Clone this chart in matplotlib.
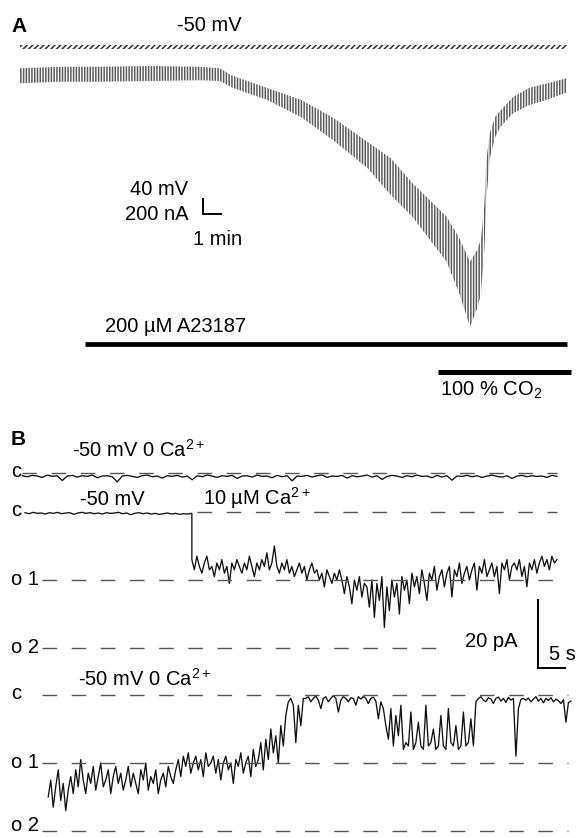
import numpy as np
import matplotlib
matplotlib.use("Agg")
import matplotlib.pyplot as plt
from matplotlib import transforms

# ======================= DATA =======================
# Panel A : oocyte voltage clamp, time (min), current envelope (nA)
a_time_min = [0.0, 2.2, 4.4, 7.2, 10.0, 11.1, 11.8, 13.7, 15.6, 17.4, 19.3, 20.6,
              21.8, 23.7, 24.4, 25.0, 25.4, 25.6, 25.8, 25.9, 26.1, 26.4, 26.7,
              27.4, 28.3, 29.3, 30.4]
a_current_upper_nA = [-110, -90, -90, -80, -90, -110, -210, -370, -530, -770, -1090,
                      -1310, -1640, -2090, -2370, -2690, -2530, -2400, -1930, -1360,
                      -970, -760, -670, -490, -370, -310, -240]
a_current_lower_nA = [-310, -290, -290, -280, -270, -280, -370, -530, -760, -1070,
                      -1440, -1800, -2090, -2690, -3110, -3560, -3310, -3130, -2530,
                      -1890, -1310, -1030, -890, -710, -600, -530, -430]
a_voltage_time_min = [0.0, 30.4]
a_voltage_upper_mV = [-45, -45]
a_voltage_lower_mV = [-56, -56]
a23187_period_min = [3.6, 30.4]
co2_period_min = [23.2, 30.6]

# Panel B : single-channel currents (pA) ; levels c / o1 / o2
level_values_pA = [0, -20, -40]
level_names = ["c", "o 1", "o 2"]

trace1_span_s = [-0.5, 98.5]
trace1_pA = [-0.8, -1.1, -0.7, -0.9, -1.3, -0.6, -1.0, -0.8, -2.2, -0.9, -0.7, -1.2, -0.8, -1.0,
             -0.6, -1.4, -0.9, -0.8, -1.1, -2.6, -0.9, -0.7, -1.0, -1.3, -0.8, -0.6, -1.1, -0.9,
             -1.5, -0.8, -1.0, -0.7, -1.2, -0.9, -2.0, -0.8, -1.1, -0.6, -0.9, -1.3, -0.8, -1.0,
             -0.7, -1.6, -0.9, -0.8, -1.2, -0.6, -1.0, -0.9, -1.4, -0.7, -1.1, -0.8, -2.3, -0.9,
             -1.0, -0.7, -1.2, -0.8, -0.6, -1.3, -0.9, -1.0, -0.7, -1.5, -0.8, -1.1, -0.9, -0.6,
             -1.2, -0.8, -1.9, -1.0, -0.7, -0.9, -1.3, -0.8, -1.1, -0.6, -1.0, -0.9, -1.4, -0.7,
             -1.2, -0.8, -2.1, -0.9, -1.0, -0.7, -1.1, -0.8, -1.3, -0.9, -0.6, -1.0, -1.2, -0.8,
             -1.6, -0.9, -0.7, -1.1, -0.8, -1.0, -0.9, -1.3, -0.7, -1.0]

trace2_step_s = 30.9          # application of 10 uM Ca2+
trace2_end_s = 98.5
trace2_pre_pA = [-0.2, -0.5, -0.1, -0.4, -0.3, -0.6, -0.2, -0.4, -0.1, -0.5, -0.3, -0.2, -0.7,
                 -0.3, -0.1, -0.4, -0.2, -0.5, -0.3, -0.6, -0.2, -0.4, -0.3, -0.1, -0.5, -0.3,
                 -0.8, -0.4, -0.2, -0.5, -0.3, -0.6, -0.4, -0.7, -0.5, -0.3, -0.6, -0.4, -0.7,
                 -0.5, -0.6, -0.4]
trace2_post_pA = [-14, -17, -13, -16, -18, -15, -13, -17, -16, -19,
                  -15, -17, -14, -18, -16, -21, -15, -17, -14, -16,
                  -18, -15, -17, -13, -16, -19, -15, -17, -14, -16,
                  -12, -17, -15, -10, -16, -18, -15, -17, -14, -18,
                  -16, -19, -17, -15, -18, -16, -20, -17, -15, -18,
                  -17, -20, -18, -22, -17, -19, -21, -18, -20, -17,
                  -20, -24, -19, -22, -27, -20, -23, -19, -25, -21,
                  -22, -28, -20, -31, -21, -26, -19, -34, -22, -29,
                  -20, -25, -21, -30, -19, -23, -20, -27, -18, -22,
                  -19, -24, -17, -21, -26, -18, -20, -16, -23, -19,
                  -17, -22, -18, -16, -25, -17, -19, -15, -21, -18,
                  -16, -20, -17, -15, -23, -16, -18, -14, -19, -17,
                  -15, -19, -16, -24, -15, -17, -14, -20, -16, -15,
                  -17, -14, -19, -16, -22, -15, -17, -14, -18, -15,
                  -13, -16, -14, -17, -13, -15, -14]

trace3_span_s = [4.3, 101.1]
trace3_pA = [-30, -25, -33, -27, -22, -31, -26, -34, -28, -24, -29,
             -22, -27, -19, -25, -29, -23, -26, -21, -28, -24, -20, -27, -25, -22, -29, -24,
             -21, -26, -23, -28,
             -25, -21, -27, -23, -26, -29, -22, -25, -20, -28, -24, -26, -22, -29, -25, -23,
             -27, -21, -24, -26,
             -22, -19, -24, -18, -21, -17, -23, -20, -18, -22, -19, -24, -17, -21, -20, -18,
             -23, -19, -25, -20,
             -18, -22, -20, -26, -19, -21, -17, -23, -20, -18, -24, -16, -21, -19, -14, -22,
             -13, -19, -10, -17, -12, -20, -9, -15,
             -6, -2, -1, -3,
             -14, -3, -9, -1,
             -1, -0.5, -2, -1, -0.3, -1.5, -4, -1, -0.5, -2, -1, -0.2, -1, -5, -1.5, -0.5,
             -1, -2, -0.8, -1, -3, -0.5, -1.2, -0.4, -1, -2.5, -1, -0.6, -1.8, -7, -2, -4, -9,
             -13, -4, -15, -6, -12, -3, -16, -14,
             -15, -5, -16, -14, -8, -15, -16, -3, -15, -14, -10, -16, -15, -6, -15, -16, -4,
             -14, -15, -9, -16, -15, -5, -15, -14, -7, -15,
             -2, -1, -0.5, -1.5, -2, -0.8, -1.2, -2.5, -1, -0.6, -1.8, -1, -2.2, -0.7, -1.5,
             -1, -18, -4, -1.3, -1, -1.5, -0.9, -2, -1.2, -0.5, -1.8, -1, -2.3, -1, -1.6,
             -0.8, -2, -1.2, -1.7, -2.5, -1.4, -8, -2.2, -1.8]

# ======================= STYLE / LAYOUT =======================
plt.rcParams["font.family"] = ["Liberation Sans", "DejaVu Sans"]
plt.rcParams["mathtext.fontset"] = "custom"
plt.rcParams["mathtext.rm"] = "Liberation Sans"
plt.rcParams["mathtext.it"] = "Liberation Sans:italic"
plt.rcParams["mathtext.bf"] = "Liberation Sans:bold"
plt.rcParams["lines.scale_dashes"] = False
plt.rcParams["hatch.linewidth"] = 1.1

W, H = 581, 838
FS = 14.5
fig = plt.figure(figsize=(W / 100, H / 100), dpi=100)


def px_axes(x0, x1, y0, y1):
    ax = fig.add_axes([x0 / W, 1 - y1 / H, (x1 - x0) / W, (y1 - y0) / H])
    ax.set_axis_off()
    return ax


def ftext(x, y, s, **kw):
    kw.setdefault("fontsize", FS)
    fig.text(x / W, 1 - y / H, s, ha="left", va="baseline", **kw)


# ---------------- Panel A ----------------
PX_PER_MIN = 18.0
PX_PER_NA = 15.0 / 200.0
PX_PER_MV = 15.0 / 40.0
A_X0, A_X1 = 20, 567
A_ZERO_PX = 60            # pixel row of 0 nA

axA = px_axes(A_X0, A_X1, 30, 410)
axA.set_xlim(0, (A_X1 - A_X0) / PX_PER_MIN)
axA.set_ylim(-(410 - A_ZERO_PX) / PX_PER_NA, (A_ZERO_PX - 30) / PX_PER_NA)
axA.fill_between(a_time_min, a_current_lower_nA, a_current_upper_nA,
                 facecolor="none", edgecolor="#5c5c5c", hatch="||||||", linewidth=0)

axV = px_axes(A_X0, A_X1, 35, 60)
axV.set_xlim(0, (A_X1 - A_X0) / PX_PER_MIN)
axV.set_ylim(-50 - (60 - 47) / PX_PER_MV, -50 + (47 - 35) / PX_PER_MV)
axV.fill_between(a_voltage_time_min, a_voltage_lower_mV, a_voltage_upper_mV,
                 facecolor="none", edgecolor="#2e2e2e", hatch="//////", linewidth=0)

# scale bar 1 min / 200 nA
sb_t = (203 - A_X0) / PX_PER_MIN
sb_i = -(214 - A_ZERO_PX) / PX_PER_NA
axA.plot([sb_t, sb_t, sb_t + 1.0], [sb_i + 200, sb_i, sb_i], color="black", lw=1.4,
         solid_joinstyle="miter", clip_on=False)

# drug application bars
blend = transforms.blended_transform_factory(axA.transData, fig.transFigure)
axA.plot(a23187_period_min, [1 - 344 / H] * 2, transform=blend, color="black", lw=3.4,
         solid_capstyle="butt", clip_on=False)
axA.plot(co2_period_min, [1 - 372 / H] * 2, transform=blend, color="black", lw=3.6,
         solid_capstyle="butt", clip_on=False)

ftext(11, 32, "A", fontweight="bold", fontsize=15)
ftext(177, 31, "-50 mV")
ftext(130, 195, "40 mV")
ftext(125, 220, "200 nA")
ftext(193, 245, "1 min")
ftext(105, 332, "200 \u00b5M A23187")
ftext(440, 396, "100 % CO$_2$")

# ---------------- Panel B ----------------
PX_PER_S = 5.4
PX_PER_PA = 3.4
B_T0_PX = 25


def b_axes(yc, above, below):
    ax = px_axes(0, W, yc - above, yc + below)
    ax.set_xlim(-B_T0_PX / PX_PER_S, (W - B_T0_PX) / PX_PER_S)
    ax.set_ylim(-below / PX_PER_PA, above / PX_PER_PA)
    return ax


def px_to_s(x):
    return (x - B_T0_PX) / PX_PER_S


DASH = dict(color="#555555", lw=1.0, dashes=(10.5, 10.5), solid_capstyle="butt")
TRACE = dict(color="#111111", lw=0.95)


def level_label(ax, value, name, off=None):
    tr = transforms.blended_transform_factory(fig.transFigure, ax.transData)
    if off is None:
        off = 4 if name == "c" else 5
    tr = transforms.offset_copy(tr, fig=fig, x=0, y=-off, units="dots")
    ax.text(11 / W, value, name, transform=tr, fontsize=FS, ha="left", va="baseline")


# trace 1
ax1 = b_axes(473, 30, 40)
ax1.plot(trace1_span_s, [level_values_pA[0]] * 2, **DASH)
ax1.plot(np.linspace(trace1_span_s[0], trace1_span_s[1], len(trace1_pA)), trace1_pA, **TRACE)
level_label(ax1, level_values_pA[0], level_names[0])

# trace 2
ax2 = b_axes(512, 30, 170)
t_pre = np.linspace(0, trace2_step_s, len(trace2_pre_pA))
t_post = np.linspace(trace2_step_s, trace2_end_s, len(trace2_post_pA))
ax2.plot(np.concatenate([t_pre, t_post]), trace2_pre_pA + trace2_post_pA, **TRACE)
ax2.plot([trace2_step_s + 0.9, trace2_end_s], [level_values_pA[0]] * 2, **DASH)
ax2.plot([px_to_s(42), trace2_end_s], [level_values_pA[1]] * 2, **DASH)
ax2.plot([px_to_s(42), px_to_s(436)], [level_values_pA[2]] * 2, **DASH)
for v, n in zip(level_values_pA, level_names):
    level_label(ax2, v, n)

# scale bar 20 pA / 5 s
sc_t = px_to_s(538)
sc_i = -(668 - 512) / PX_PER_PA
ax2.plot([sc_t, sc_t, sc_t + 5.0], [sc_i + 20, sc_i, sc_i], color="black", lw=1.4,
         solid_joinstyle="miter", clip_on=False)

# trace 3
ax3 = b_axes(695, 30, 143)
ax3.plot(np.linspace(trace3_span_s[0], trace3_span_s[1], len(trace3_pA)), trace3_pA, **TRACE)
for v, n in zip(level_values_pA, level_names):
    ax3.plot([px_to_s(42), px_to_s(568)], [v, v], **DASH)
    level_label(ax3, v, n, off=0 if n == "o 2" else None)

ftext(11, 445, "B", fontweight="bold", fontsize=15)
ftext(72, 457, "-50 mV 0 Ca$^{2+}$")
ftext(80, 505, "-50 mV")
ftext(203, 505, "10 \u00b5M Ca$^{2+}$")
ftext(465, 647, "20 pA")
ftext(549, 660, "5 s")
ftext(78, 686, "-50 mV 0 Ca$^{2+}$")

fig.savefig("out.png", dpi=100)
